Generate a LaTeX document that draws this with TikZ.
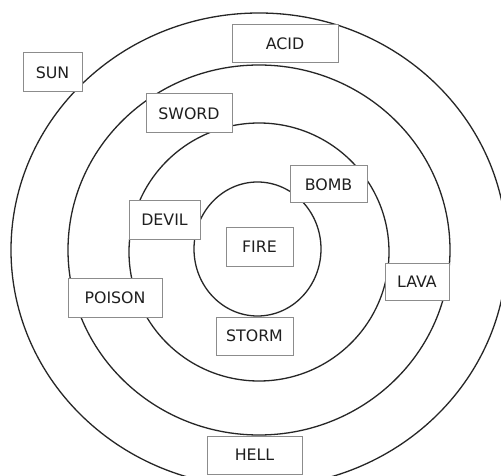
\documentclass[tikz,border=0pt]{standalone}
\usepackage{fontspec}
\setmainfont{DejaVu Sans}
\begin{document}
\begin{tikzpicture}[x=1pt,y=-1pt,
  ring/.style={draw=black!85, line width=1.3pt},
  lbl/.style={draw=black!45, fill=white, line width=1pt, inner sep=0pt,
    text=black!88, font=\fontsize{15.8}{16}\selectfont, anchor=center}]
\useasboundingbox (0,0) rectangle (501,476);
\fill[white] (0,0) rectangle (501,476);
% rings
\draw[ring] (259,250) ellipse [x radius=248, y radius=237];
\draw[ring] (259,250) ellipse [x radius=191, y radius=185];
\draw[ring] (259,252) ellipse [x radius=130, y radius=129];
\draw[ring] (257.5,249) ellipse [x radius=63.5, y radius=67];
% labels
\node[lbl, minimum width=59pt, minimum height=39pt] (sun) at (52.5,72.5) {SUN};
\node[lbl, minimum width=106pt, minimum height=38pt] (acid) at (285,44) {ACID};
\node[lbl, minimum width=86pt, minimum height=39pt] (sword) at (189,113.5) {SWORD};
\node[lbl, minimum width=77pt, minimum height=37pt] (bomb) at (328.5,184.5) {BOMB};
\node[lbl, minimum width=71pt, minimum height=38pt] (devil) at (164.5,220) {DEVIL};
\node[lbl, minimum width=67pt, minimum height=39pt] (fire) at (259.5,246.5) {FIRE};
\node[lbl, minimum width=64pt, minimum height=37pt] (lava) at (417,281.5) {LAVA};
\node[lbl, minimum width=94pt, minimum height=39pt] (poison) at (115,297.5) {POISON};
\node[lbl, minimum width=77pt, minimum height=38pt] (storm) at (254.5,336) {STORM};
\node[lbl, minimum width=95pt, minimum height=38pt] (hell) at (254.5,455) {HELL};
\end{tikzpicture}
\end{document}
